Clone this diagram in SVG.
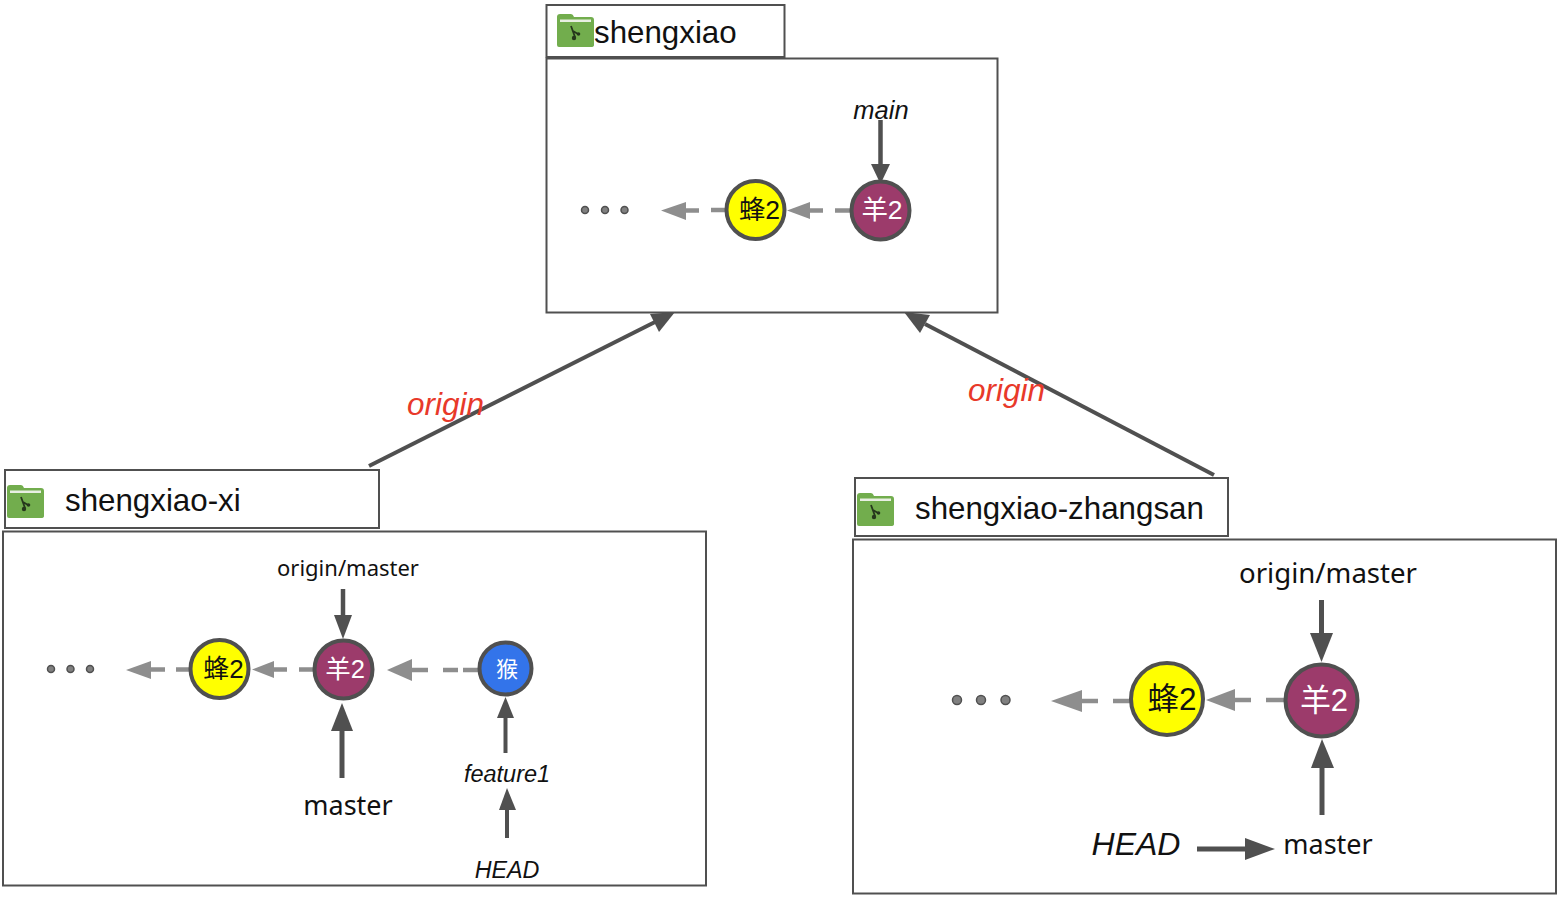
<svg xmlns="http://www.w3.org/2000/svg" width="1560" height="898" viewBox="0 0 1560 898">
<style>
text{font-family:"Liberation Sans","Noto Sans CJK SC",sans-serif;fill:#111}
.box{fill:#fff;stroke:#505050;stroke-width:2}
.t{font-size:31.300px}
.n{font-family:"Noto Sans","Noto Sans CJK SC",sans-serif}
.i{font-style:italic}
.o{font-style:italic;font-size:31.500px;fill:#e8392a}
.m{text-anchor:middle}
.dark{stroke:#505050;fill:none}
.gray{stroke:#8e8e8e;stroke-width:4.500;fill:none}
.ah{fill:#505050;stroke:none}
.gh{fill:#8e8e8e;stroke:none}
.c{stroke:#505050;stroke-width:4}
.y{fill:#ffff00}
.p{fill:#9c3b6b}
.b{fill:#3374ea}
.dot{fill:#808080;stroke:#505050;stroke-width:1.500}
.w{fill:#fff}
</style>
<defs>
<g id="folder">
<path d="M0 3q0-3 3-3h11q2 0 3 3h17q3 0 3 3v25q0 2-3 2H2q-2 0-2-2z" fill="#72ad4d"/>
<rect x="3" y="5.500" width="31" height="2.500" fill="#e8efe2"/>
<path d="M14 12l4 11M16 17l5 3" stroke="#26381c" stroke-width="1.800" fill="none"/>
<circle cx="17" cy="24" r="2.200" fill="#26381c"/><circle cx="21.500" cy="20" r="1.800" fill="#26381c"/>
</g>
</defs>
<rect width="1560" height="898" fill="#fff"/>

<g id="connectors">
<path class="dark" stroke-width="4" d="M369 466L655 322"/><path class="ah" d="M675 312L650 314L659 332z"/>
<path class="dark" stroke-width="4" d="M1214 475L925 324"/><path class="ah" d="M904 312L930 315L920 333z"/>
</g>

<g id="node-shengxiao">
<rect class="box" x="546.500" y="5" width="238" height="52"/>
<rect class="box" x="546.500" y="58.500" width="451" height="254"/>
<use href="#folder" x="557" y="14"/>
<text class="t" x="594" y="43">shengxiao</text>
<text class="i m" x="881" y="119" font-size="25.500">main</text>
<path class="dark" stroke-width="4.500" d="M880.500 120V168"/><path class="ah" d="M871 164H890L880.500 184z"/>
<path class="gray" d="M808 210.500H823M835 210.500H850"/><path class="gh" d="M787 210.500L810 202V219z"/>
<path class="gray" d="M684 210.500H699M711 210H726"/><path class="gh" d="M661 210.500L686 202V220z"/>
<circle class="dot" cx="585" cy="210" r="3.500"/><circle class="dot" cx="605" cy="210" r="3.500"/><circle class="dot" cx="624.500" cy="210" r="3.500"/>
</g>
<g id="commit-top-feng"><circle class="c y" cx="755.500" cy="210" r="29"/><text class="m" x="759.500" y="219" font-size="26.500">蜂2</text></g>
<g id="commit-top-yang"><circle class="c p" cx="880.500" cy="210.500" r="29"/><text class="m" x="882" y="219" font-size="26.500" style="fill:#fff">羊2</text></g>

<g id="node-shengxiao-xi">
<rect class="box" x="5" y="470" width="374" height="58"/>
<rect class="box" x="3" y="531.500" width="703" height="354"/>
<use href="#folder" x="7" y="485"/>
<text class="t" x="65" y="511">shengxiao-xi</text>
<text class="n m" x="348" y="575.500" font-size="22">origin/master</text>
<path class="dark" stroke-width="4.500" d="M343 589V620"/><path class="ah" d="M334 615H352L343 639z"/>
<path class="gray" d="M271 669.500H287M299 669.500H313"/><path class="gh" d="M252 669.500L274 661V678z"/>
<path class="gray" d="M165 669.500H150M190 669.500H176"/><path class="gh" d="M126 670L151 661V679z"/>
<path class="gray" d="M410 670H428M443 670H458M463 670H478" stroke-width="5"/><path class="gh" d="M387 670L412 659V681z"/>
<circle class="dot" cx="51" cy="669" r="3.500"/><circle class="dot" cx="70.500" cy="669" r="3.500"/><circle class="dot" cx="90" cy="669" r="3.500"/>
<path class="dark" stroke-width="5" d="M342 778V725"/><path class="ah" d="M331 731H353L342 703z"/>
<text class="n m" x="348" y="815" font-size="27">master</text>
<path class="dark" stroke-width="4" d="M505.500 753V715"/><path class="ah" d="M497 718H514L505.500 697z"/>
<text class="i m" x="507" y="782" font-size="23.500">feature1</text>
<path class="dark" stroke-width="4" d="M507 838V805"/><path class="ah" d="M499 810H516L507 788z"/>
<text class="i m" x="507" y="878" font-size="23.300">HEAD</text>
</g>
<g id="commit-left-feng"><circle class="c y" cx="219.500" cy="669" r="29"/><text class="m" x="223.500" y="678" font-size="26">蜂2</text></g>
<g id="commit-left-yang"><circle class="c p" cx="343.500" cy="669.500" r="29"/><text class="m" x="345" y="678" font-size="25.500" style="fill:#fff">羊2</text></g>
<g id="commit-left-hou"><circle class="c b" cx="505.500" cy="668.500" r="26"/><text class="m" x="507" y="676.500" font-size="22" style="fill:#fff">猴</text></g>

<g id="node-shengxiao-zhangsan">
<rect class="box" x="855" y="478" width="373" height="58"/>
<rect class="box" x="853" y="539.500" width="703" height="354"/>
<use href="#folder" x="857" y="493"/>
<text class="t" x="915" y="519">shengxiao-zhangsan</text>
<text class="n m" x="1328" y="583" font-size="27.600">origin/master</text>
<path class="dark" stroke-width="5" d="M1321.500 600V636"/><path class="ah" d="M1310 633H1333L1321.500 662z"/>
<path class="gray" d="M1232 700H1251M1266 700H1285" stroke-width="5"/><path class="gh" d="M1206 700L1235 689V711z"/>
<path class="gray" d="M1080 701H1098M1113 701H1130" stroke-width="5"/><path class="gh" d="M1051 701L1082 690V712z"/>
<circle class="dot" cx="957" cy="700" r="4.500"/><circle class="dot" cx="981" cy="700" r="4.500"/><circle class="dot" cx="1005.500" cy="700" r="4.500"/>
<path class="dark" stroke-width="5" d="M1322 815V765"/><path class="ah" d="M1311 768H1334L1322 739z"/>
<text class="i m" x="1136" y="855" font-size="32">HEAD</text>
<path class="dark" stroke-width="5" d="M1197 849H1250"/><path class="ah" d="M1245 838V860L1275 849z"/>
<text class="n m" x="1328" y="853.500" font-size="27">master</text>
</g>
<g id="commit-right-feng"><circle class="c y" cx="1167" cy="699" r="36"/><text class="m" x="1172" y="710" font-size="31.500">蜂2</text></g>
<g id="commit-right-yang"><circle class="c p" cx="1321.500" cy="700.500" r="36"/><text class="m" x="1324" y="710.500" font-size="31" style="fill:#fff">羊2</text></g>

<g id="labels">
<text class="o" x="407" y="415">origin</text>
<text class="o" x="968" y="401">origin</text>
</g>
</svg>
